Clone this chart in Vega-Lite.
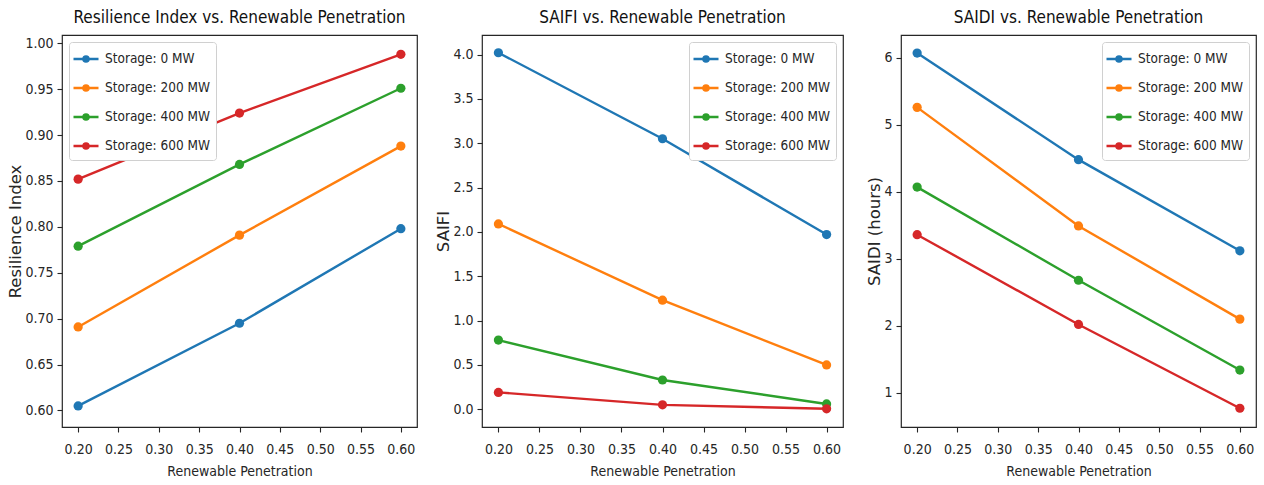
{
  "$schema": "https://vega.github.io/schema/vega-lite/v6.json",
  "background": "white",
  "padding": {"left": 7, "top": 8, "right": 5, "bottom": 4},
  "datasets": {
    "d": [
      {"metric": "RI", "storage": "Storage: 0 MW", "pen": 0.2, "value": 0.605},
      {"metric": "RI", "storage": "Storage: 0 MW", "pen": 0.4, "value": 0.695},
      {"metric": "RI", "storage": "Storage: 0 MW", "pen": 0.6, "value": 0.798},
      {"metric": "RI", "storage": "Storage: 200 MW", "pen": 0.2, "value": 0.691},
      {"metric": "RI", "storage": "Storage: 200 MW", "pen": 0.4, "value": 0.791},
      {"metric": "RI", "storage": "Storage: 200 MW", "pen": 0.6, "value": 0.888},
      {"metric": "RI", "storage": "Storage: 400 MW", "pen": 0.2, "value": 0.779},
      {"metric": "RI", "storage": "Storage: 400 MW", "pen": 0.4, "value": 0.868},
      {"metric": "RI", "storage": "Storage: 400 MW", "pen": 0.6, "value": 0.951},
      {"metric": "RI", "storage": "Storage: 600 MW", "pen": 0.2, "value": 0.852},
      {"metric": "RI", "storage": "Storage: 600 MW", "pen": 0.4, "value": 0.924},
      {"metric": "RI", "storage": "Storage: 600 MW", "pen": 0.6, "value": 0.988},
      {"metric": "SAIFI", "storage": "Storage: 0 MW", "pen": 0.2, "value": 4.02},
      {"metric": "SAIFI", "storage": "Storage: 0 MW", "pen": 0.4, "value": 3.05},
      {"metric": "SAIFI", "storage": "Storage: 0 MW", "pen": 0.6, "value": 1.97},
      {"metric": "SAIFI", "storage": "Storage: 200 MW", "pen": 0.2, "value": 2.09},
      {"metric": "SAIFI", "storage": "Storage: 200 MW", "pen": 0.4, "value": 1.23},
      {"metric": "SAIFI", "storage": "Storage: 200 MW", "pen": 0.6, "value": 0.5},
      {"metric": "SAIFI", "storage": "Storage: 400 MW", "pen": 0.2, "value": 0.78},
      {"metric": "SAIFI", "storage": "Storage: 400 MW", "pen": 0.4, "value": 0.33},
      {"metric": "SAIFI", "storage": "Storage: 400 MW", "pen": 0.6, "value": 0.06},
      {"metric": "SAIFI", "storage": "Storage: 600 MW", "pen": 0.2, "value": 0.19},
      {"metric": "SAIFI", "storage": "Storage: 600 MW", "pen": 0.4, "value": 0.05},
      {"metric": "SAIFI", "storage": "Storage: 600 MW", "pen": 0.6, "value": 0.005},
      {"metric": "SAIDI", "storage": "Storage: 0 MW", "pen": 0.2, "value": 6.07},
      {"metric": "SAIDI", "storage": "Storage: 0 MW", "pen": 0.4, "value": 4.48},
      {"metric": "SAIDI", "storage": "Storage: 0 MW", "pen": 0.6, "value": 3.12},
      {"metric": "SAIDI", "storage": "Storage: 200 MW", "pen": 0.2, "value": 5.26},
      {"metric": "SAIDI", "storage": "Storage: 200 MW", "pen": 0.4, "value": 3.49},
      {"metric": "SAIDI", "storage": "Storage: 200 MW", "pen": 0.6, "value": 2.1},
      {"metric": "SAIDI", "storage": "Storage: 400 MW", "pen": 0.2, "value": 4.07},
      {"metric": "SAIDI", "storage": "Storage: 400 MW", "pen": 0.4, "value": 2.68},
      {"metric": "SAIDI", "storage": "Storage: 400 MW", "pen": 0.6, "value": 1.34},
      {"metric": "SAIDI", "storage": "Storage: 600 MW", "pen": 0.2, "value": 3.36},
      {"metric": "SAIDI", "storage": "Storage: 600 MW", "pen": 0.4, "value": 2.02},
      {"metric": "SAIDI", "storage": "Storage: 600 MW", "pen": 0.6, "value": 0.77}
    ]
  },
  "config": {
    "font": "DejaVu Sans Condensed, Liberation Sans Narrow, DejaVu Sans",
    "view": {"stroke": "#262626", "strokeWidth": 1.2},
    "axis": {
      "domain": false, "grid": false, "tickColor": "#262626", "tickSize": 5, "tickWidth": 1.1,
      "labelColor": "#262626", "labelFontSize": 14, "titleColor": "#262626",
      "titleFontSize": 14, "titleFontWeight": "normal"
    },
    "axisX": {"labelPadding": 10, "titlePadding": 8},
    "axisY": {"labelPadding": 4, "titleFont": "DejaVu Sans", "titleFontSize": 16.5, "titlePadding": 1},
    "title": {"fontSize": 17, "fontWeight": "normal", "color": "#111", "offset": 8},
    "legend": {
      "labelFontSize": 13.5, "labelColor": "#262626", "strokeColor": "#d0d0d0",
      "fillColor": "white", "cornerRadius": 3, "padding": 6, "rowPadding": 10,
      "offset": 7, "symbolStrokeWidth": 2.4, "symbolSize": 370,
      "symbolType": "M-1.3,0H1.3M0.27,0A0.27,0.27,0,1,1,-0.27,0A0.27,0.27,0,1,1,0.27,0Z",
      "labelOffset": 8
    }
  },
  "spacing": 65,
  "bounds": "flush",
  "resolve": {"scale": {"color": "independent"}, "legend": {"color": "independent"}},
  "hconcat": [
    {
      "width": 355, "height": 392,
      "title": "Resilience Index vs. Renewable Penetration",
      "data": {"name": "d"},
      "transform": [{"filter": "datum.metric === 'RI'"}],
      "encoding": {
        "x": {"field": "pen", "type": "quantitative", "scale": {"domain": [0.18, 0.62], "nice": false, "zero": false},
              "axis": {"values": [0.2, 0.25, 0.3, 0.35, 0.4, 0.45, 0.5, 0.55, 0.6], "format": ".2f", "title": "Renewable Penetration"}},
        "y": {"field": "value", "type": "quantitative", "scale": {"domain": [0.582, 1.009], "nice": false, "zero": false},
              "axis": {"values": [0.6, 0.65, 0.7, 0.75, 0.8, 0.85, 0.9, 0.95, 1.0], "format": ".2f", "title": "Resilience Index"}},
        "color": {"field": "storage", "type": "nominal",
                  "scale": {"domain": ["Storage: 0 MW", "Storage: 200 MW", "Storage: 400 MW", "Storage: 600 MW"], "range": ["#1f77b4", "#ff7f0e", "#2ca02c", "#d62728"]},
                  "legend": {"title": null, "orient": "top-left"}}
      },
      "layer": [
        {"mark": {"type": "line", "strokeWidth": 2.4}},
        {"mark": {"type": "point", "filled": true, "opacity": 1, "size": 85}}
      ]
    },
    {
      "spacing": 58,
      "bounds": "flush",
      "resolve": {"scale": {"color": "independent"}, "legend": {"color": "independent"}},
      "hconcat": [
        {
          "width": 361, "height": 392,
          "title": "SAIFI vs. Renewable Penetration",
          "data": {"name": "d"},
          "transform": [{"filter": "datum.metric === 'SAIFI'"}],
          "encoding": {
            "x": {"field": "pen", "type": "quantitative", "scale": {"domain": [0.18, 0.62], "nice": false, "zero": false},
                  "axis": {"values": [0.2, 0.25, 0.3, 0.35, 0.4, 0.45, 0.5, 0.55, 0.6], "format": ".2f", "title": "Renewable Penetration"}},
            "y": {"field": "value", "type": "quantitative", "scale": {"domain": [-0.2, 4.22], "nice": false, "zero": false},
                  "axis": {"values": [0, 0.5, 1, 1.5, 2, 2.5, 3, 3.5, 4], "format": ".1f", "title": "SAIFI"}},
            "color": {"field": "storage", "type": "nominal",
                      "scale": {"domain": ["Storage: 0 MW", "Storage: 200 MW", "Storage: 400 MW", "Storage: 600 MW"], "range": ["#1f77b4", "#ff7f0e", "#2ca02c", "#d62728"]},
                      "legend": {"title": null, "orient": "top-right"}}
          },
          "layer": [
            {"mark": {"type": "line", "strokeWidth": 2.4}},
            {"mark": {"type": "point", "filled": true, "opacity": 1, "size": 85}}
          ]
        },
        {
          "width": 355, "height": 392,
          "title": "SAIDI vs. Renewable Penetration",
          "data": {"name": "d"},
          "transform": [{"filter": "datum.metric === 'SAIDI'"}],
          "encoding": {
            "x": {"field": "pen", "type": "quantitative", "scale": {"domain": [0.18, 0.62], "nice": false, "zero": false},
                  "axis": {"values": [0.2, 0.25, 0.3, 0.35, 0.4, 0.45, 0.5, 0.55, 0.6], "format": ".2f", "title": "Renewable Penetration"}},
            "y": {"field": "value", "type": "quantitative", "scale": {"domain": [0.49, 6.34], "nice": false, "zero": false},
                  "axis": {"values": [1, 2, 3, 4, 5, 6], "format": "d", "title": "SAIDI (hours)"}},
            "color": {"field": "storage", "type": "nominal",
                      "scale": {"domain": ["Storage: 0 MW", "Storage: 200 MW", "Storage: 400 MW", "Storage: 600 MW"], "range": ["#1f77b4", "#ff7f0e", "#2ca02c", "#d62728"]},
                      "legend": {"title": null, "orient": "top-right"}}
          },
          "layer": [
            {"mark": {"type": "line", "strokeWidth": 2.4}},
            {"mark": {"type": "point", "filled": true, "opacity": 1, "size": 85}}
          ]
        }
      ]
    }
  ]
}
